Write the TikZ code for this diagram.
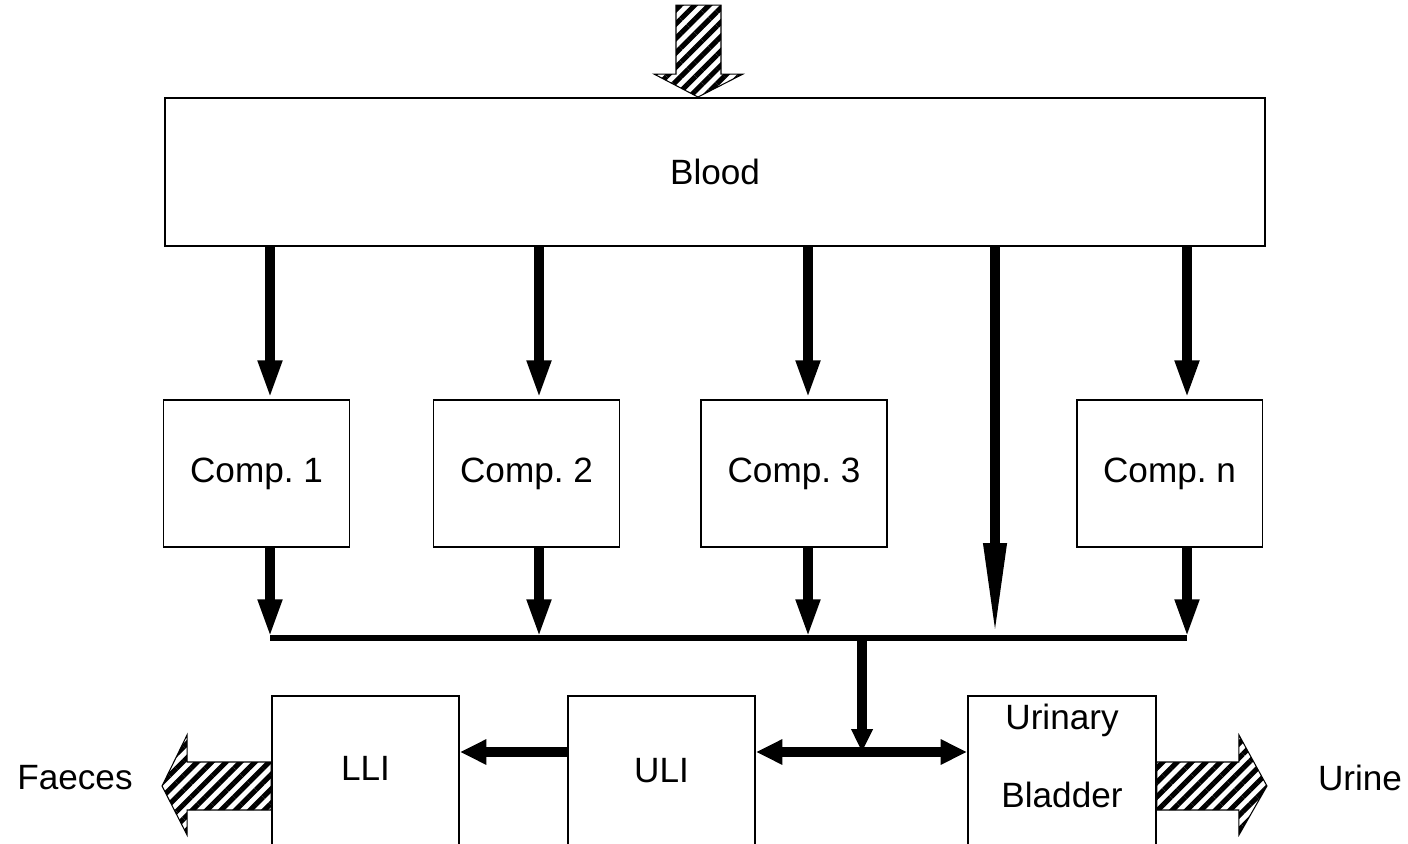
\documentclass[tikz,border=0pt]{standalone}
\usepackage{fontspec}
\setmainfont{Liberation Sans}
\usetikzlibrary{arrows.meta,patterns.meta,positioning}
\frenchspacing

\tikzset{
  box/.style={draw, line width=1.1pt, inner sep=0pt, minimum width=3.72cm, minimum height=2.94cm, align=center, font=\fontsize{20}{24}\selectfont},
  flow/.style={line width=5.5pt, -{Triangle[length=22pt,width=12.5pt]}},
  longflow/.style={line width=5.5pt, -{Triangle[length=54pt,width=12pt]}},
  busline/.style={line width=3.5pt},
  outflow/.style={line width=6pt, -{Triangle[length=13pt,width=11.5pt]}},
  sideflow/.style={line width=6pt, -{Triangle[length=15pt,width=13.5pt]}},
  hatch/.style={draw, line width=0.6pt, pattern={Lines[angle=45,distance=5.8pt,line width=2.9pt]}},
  lbl/.style={font=\fontsize{20}{24}\selectfont}
}

\begin{document}
\begin{tikzpicture}[x=0.02cm, y=-0.02cm]

\clip (0,0) rectangle (1408,844);

% blood and compartments
\node (blood) [box, minimum width=22cm, minimum height=2.96cm] at (715,172) {Blood};
\node (c1) [box] at (256.5,473.5) {Comp. 1};
\node (c2) [box] at (526.5,473.5) {Comp. 2};
\node (c3) [box] at (794,473.5) {Comp. 3};
\node (cn) [box] at (1169.5,473.5) {\raisebox{3pt}{Comp. n}};

% excretion
\node (lli) [box, minimum width=3.74cm, minimum height=3cm] at (365.5,771) {\raisebox{3pt}{LLI}};
\node (uli) [box, minimum width=3.74cm, minimum height=3cm] at (661.5,771) {\raisebox{-4pt}{ULI}};
\node (ub) [box, minimum width=3.76cm, minimum height=3cm,
    label={[lbl, align=center, yshift=8.5pt]center:Urinary\\[20pt]Bladder}] at (1062,771) {};

\node (faeces) [lbl] at (75,778) {Faeces};
\node (urine) [lbl] at (1360,778) {Urine};

\coordinate (jn) at (862,752);

% intake
\draw[hatch] (blood.north -| 698,0) -- ++(45,-23) -- ++(-22,0) -- ++(0,-69) -- ++(-45,0) -- ++(0,69) -- ++(-22,0) -- cycle;

\foreach \c/\x in {c1/270, c2/539, c3/808, cn/1187} {
    \draw[flow] (blood.south -| \x,0) -- (\c.north -| \x,0);
    \draw[flow] (\c.south -| \x,0) -- (\x,638);
}
\draw[longflow] (blood.south -| 995,0) -- (995,638);
\draw[busline] (270,638) -- (1187,638);

\draw[outflow] (jn |- 0,638) -- (jn);
\draw[sideflow, {Triangle[length=15pt,width=13.5pt]}-{Triangle[length=15pt,width=13.5pt]}] (uli.east |- jn) -- (ub.west |- jn);
\draw[sideflow] (uli.west |- jn) -- (lli.east |- jn);

% out
\draw[hatch] (lli.west |- 0,762) -- ++(-84,0) -- ++(0,-27) -- ++(-25,51) -- ++(25,49) -- ++(0,-25) -- ++(84,0) -- cycle;
\draw[hatch] (ub.east |- 0,762) -- ++(82,0) -- ++(0,-27) -- ++(28,51) -- ++(-28,49) -- ++(0,-25) -- ++(-82,0) -- cycle;

\end{tikzpicture}
\end{document}
